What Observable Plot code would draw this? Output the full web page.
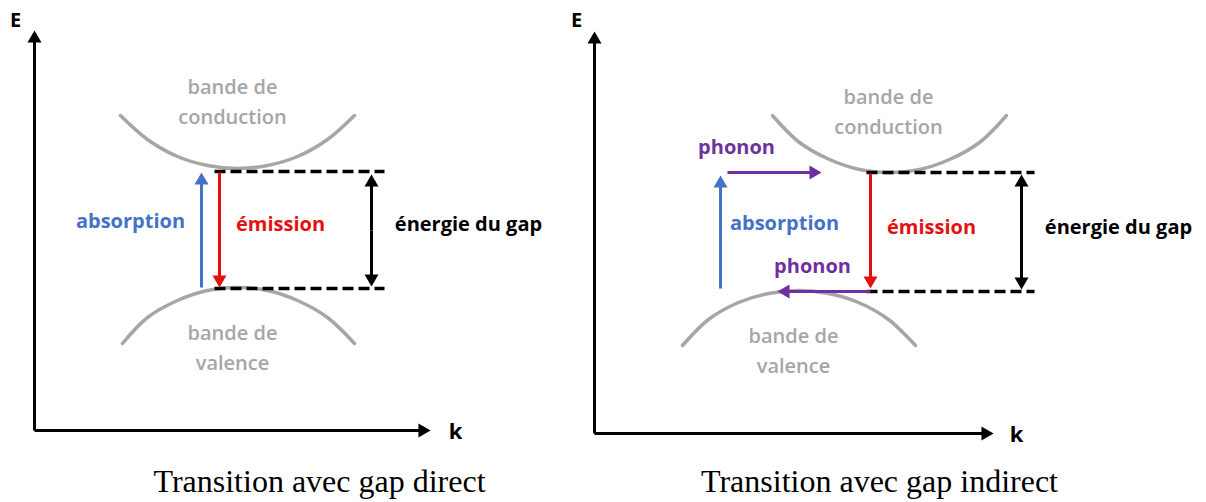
<!DOCTYPE html>
<html>
<head>
<meta charset="utf-8">
<script src="https://cdn.jsdelivr.net/npm/d3@7"></script>
<script src="https://cdn.jsdelivr.net/npm/@observablehq/plot@0.6"></script>
<style>
  html, body { margin: 0; padding: 0; background: #fff; }
</style>
</head>
<body>
<div id="chart"></div>
<script>
// Canvas units (diagram coordinates)
const W = 1206, H = 502;

// Axes (tail -> tip), black with arrowhead
const axisArrows = [
  {x1: 34, y1: 430, x2: 34, y2: 30},
  {x1: 34, y1: 430, x2: 430, y2: 430},
  {x1: 594, y1: 433, x2: 594, y2: 31},
  {x1: 594, y1: 433, x2: 993, y2: 433}
];

// Band curves (points read along each arc in the picture)
const bandPoints = [
  {band: "Lc", x: 120, y: 115}, {band: "Lc", x: 147, y: 139}, {band: "Lc", x: 177, y: 156}, {band: "Lc", x: 207, y: 165}, {band: "Lc", x: 237, y: 168},
  {band: "Lc", x: 267, y: 165}, {band: "Lc", x: 297, y: 156}, {band: "Lc", x: 327, y: 139}, {band: "Lc", x: 354, y: 115},
  {band: "Lv", x: 122, y: 343}, {band: "Lv", x: 147, y: 317}, {band: "Lv", x: 177, y: 300}, {band: "Lv", x: 207, y: 290}, {band: "Lv", x: 237, y: 287},
  {band: "Lv", x: 267, y: 290}, {band: "Lv", x: 297, y: 300}, {band: "Lv", x: 327, y: 317}, {band: "Lv", x: 354, y: 343},
  {band: "Rc", x: 772, y: 115}, {band: "Rc", x: 799, y: 142}, {band: "Rc", x: 829, y: 159}, {band: "Rc", x: 859, y: 169}, {band: "Rc", x: 889, y: 172},
  {band: "Rc", x: 919, y: 169}, {band: "Rc", x: 949, y: 159}, {band: "Rc", x: 979, y: 142}, {band: "Rc", x: 1006, y: 115},
  {band: "Rv", x: 682, y: 345}, {band: "Rv", x: 708, y: 319}, {band: "Rv", x: 738, y: 302}, {band: "Rv", x: 768, y: 293}, {band: "Rv", x: 798, y: 290},
  {band: "Rv", x: 828, y: 293}, {band: "Rv", x: 858, y: 302}, {band: "Rv", x: 888, y: 319}, {band: "Rv", x: 915, y: 345}
];

// Transition arrows (tail -> tip)
const transitions = [
  {x1: 201, y1: 287, x2: 201, y2: 172, color: "#4472c4"},
  {x1: 219, y1: 172, x2: 219, y2: 287, color: "#e41010"},
  {x1: 720, y1: 288, x2: 720, y2: 175, color: "#4472c4"},
  {x1: 870, y1: 173, x2: 870, y2: 288, color: "#e41010"},
  {x1: 727, y1: 172, x2: 821, y2: 172, color: "#7030a0"},
  {x1: 870, y1: 291, x2: 777, y2: 291, color: "#7030a0"}
];

// Gap double arrows
const gapArrows = [
  {x: 371, y1: 174, y2: 286},
  {x: 1021, y1: 174, y2: 289}
];

// Dashed gap levels
const gapLevels = [
  {x1: 214, x2: 384, y: 171},
  {x1: 214, x2: 384, y: 288},
  {x1: 866, x2: 1034, y: 172},
  {x1: 866, x2: 1034, y: 291}
];

// Labels
const axisLabels = [
  {x: 15, y: 20, text: "E", size: 20}, {x: 455, y: 431, text: "k", size: 22},
  {x: 576, y: 20, text: "E", size: 20}, {x: 1016, y: 434, text: "k", size: 22}
];
const bandLabels = [
  {x: 232, y: 87, text: "bande de"}, {x: 232, y: 117, text: "conduction"},
  {x: 232, y: 333, text: "bande de"}, {x: 232, y: 363, text: "valence"},
  {x: 888, y: 97, text: "bande de"}, {x: 888, y: 127, text: "conduction"},
  {x: 793, y: 336, text: "bande de"}, {x: 793, y: 366, text: "valence"}
];
const colorLabels = [
  {x: 130, y: 221, text: "absorption", color: "#4472c4"},
  {x: 280, y: 224, text: "émission", color: "#e41010"},
  {x: 468, y: 224, text: "énergie du gap", color: "#000"},
  {x: 736, y: 147, text: "phonon", color: "#7030a0"},
  {x: 784, y: 223, text: "absorption", color: "#4472c4"},
  {x: 931, y: 227, text: "émission", color: "#e41010"},
  {x: 812, y: 266, text: "phonon", color: "#7030a0"},
  {x: 1118, y: 227, text: "énergie du gap", color: "#000"}
];
const captions = [
  {x: 319, y: 481, text: "Transition avec gap direct"},
  {x: 879, y: 481, text: "Transition avec gap indirect"}
];

// Build arrowhead records (filled triangles) from the arrow arrays
const HY = 4; // triangle half-unit (tip 2*HY ahead of centroid)
function heads(arr, color) {
  return arr.map(a => {
    const dx = a.x2 - a.x1, dy = a.y2 - a.y1, L = Math.hypot(dx, dy);
    const ux = dx / L, uy = dy / L;
    return {x: a.x2 - 2 * HY * ux, y: a.y2 - 2 * HY * uy,
            rot: Math.atan2(ux, -uy) * 180 / Math.PI, color: a.color || color};
  });
}
function shafts(arr) {
  return arr.map(a => {
    const dx = a.x2 - a.x1, dy = a.y2 - a.y1, L = Math.hypot(dx, dy);
    return {...a, x2: a.x2 - 2 * HY * dx / L, y2: a.y2 - 2 * HY * dy / L};
  });
}
const gapAsArrows = gapArrows.flatMap(g => [
  {x1: g.x, y1: (g.y1 + g.y2) / 2, x2: g.x, y2: g.y1},
  {x1: g.x, y1: (g.y1 + g.y2) / 2, x2: g.x, y2: g.y2}
]);

const sans = "'Open Sans', Lato, sans-serif";

const chart = Plot.plot({
  width: W, height: H, margin: 0,
  x: {domain: [0, W], range: [0, W], axis: null},
  y: {domain: [0, H], range: [0, H], axis: null},
  style: {background: "#fff"},
  marks: [
    Plot.line(bandPoints, {x: "x", y: "y", z: "band", curve: "catmull-rom", stroke: "#a6a6a6", strokeWidth: 3.5}),
    Plot.link(gapLevels, {x1: "x1", x2: "x2", y1: "y", y2: "y", stroke: "#000", strokeWidth: 3.5, strokeDasharray: "11,5"}),
    Plot.link(shafts(axisArrows), {x1: "x1", y1: "y1", x2: "x2", y2: "y2", stroke: "#000", strokeWidth: 3}),
    Plot.dot(heads(axisArrows, "#000"), {x: "x", y: "y", symbol: "triangle", r: 5.2, rotate: "rot", fill: "#000", stroke: null}),
    Plot.link(shafts(transitions), {x1: "x1", y1: "y1", x2: "x2", y2: "y2", stroke: "color", strokeWidth: 3}),
    Plot.dot(heads(transitions), {x: "x", y: "y", symbol: "triangle", r: 5.2, rotate: "rot", fill: "color", stroke: null}),
    Plot.link(shafts(gapAsArrows), {x1: "x1", y1: "y1", x2: "x2", y2: "y2", stroke: "#000", strokeWidth: 3}),
    Plot.dot(heads(gapAsArrows, "#000"), {x: "x", y: "y", symbol: "triangle", r: 5.2, rotate: "rot", fill: "#000", stroke: null}),
    Plot.text(axisLabels, {x: "x", y: "y", text: "text", fontSize: d => d.size, fontWeight: "bold", fill: "#000", fontFamily: sans}),
    Plot.text(bandLabels, {x: "x", y: "y", text: "text", fontSize: 20, fontWeight: 600, fill: "#a6a6a6", fontFamily: sans}),
    Plot.text(colorLabels, {x: "x", y: "y", text: "text", fontSize: 20, fontWeight: "bold", fill: "color", fontFamily: sans}),
    Plot.text(captions, {x: "x", y: "y", text: "text", fontSize: 32, fill: "#000", fontFamily: "'Liberation Serif', 'Times New Roman', serif"})
  ]
});
document.getElementById("chart").appendChild(chart);
</script>
</body>
</html>
